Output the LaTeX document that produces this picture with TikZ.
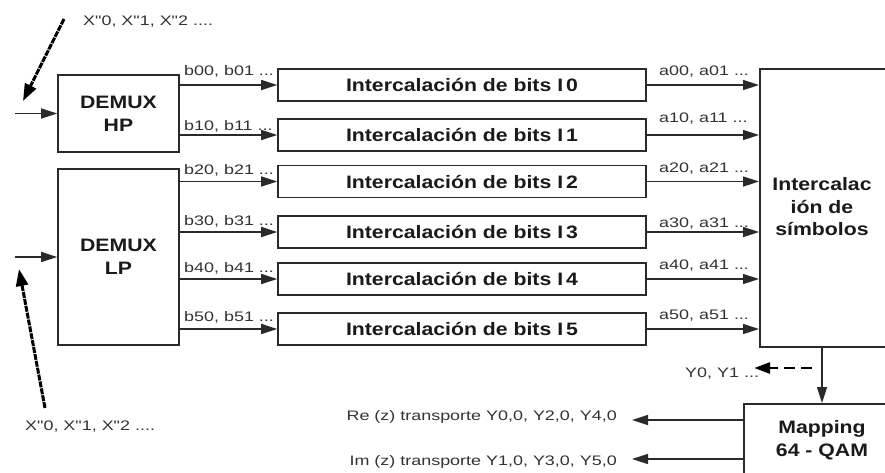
\documentclass[tikz,border=0pt]{standalone}
\usepackage{fontspec}
\setmainfont{Liberation Sans}
\newfontfamily\lblfont[FakeStretch=1.3]{Liberation Sans}
\newfontfamily\boxfont[FakeStretch=1.18]{Liberation Sans}
\usetikzlibrary{arrows.meta}
\definecolor{linec}{HTML}{2A2A2A}
\definecolor{textc}{HTML}{1A1A1A}
\definecolor{lblc}{HTML}{333333}
\begin{document}
\begin{tikzpicture}[x=1pt,y=-1pt,
  box/.style={draw=linec,line width=1.6pt,inner sep=0pt,rectangle,font=\boxfont\bfseries\fontsize{18}{23}\selectfont,text=textc,align=center},
  boxtext/.style={inner sep=0pt,font=\boxfont\bfseries\fontsize{18}{22.5}\selectfont,text=textc,align=center},
  lbl/.style={font=\lblfont\fontsize{13.8}{16}\selectfont,text=lblc,inner sep=0pt},
  arr/.style={draw=linec,line width=1.5pt,-{Triangle[length=16pt,width=10pt]}},
  bigarr/.style={draw=black,line width=3pt,dash pattern=on 6pt off 1pt,-{Triangle[length=17pt,width=12pt]}},
  dasharr/.style={draw=black,line width=2.8pt,dash pattern=on 11pt off 6pt,-{Triangle[length=16pt,width=11pt]}},
]
\clip (0,0) rectangle (885,472);
\fill[white] (0,0) rectangle (885,472);

% DEMUX boxes
\node[box,minimum width=121pt,minimum height=77pt] (hp) at (118.5,113.5) {DEMUX\\HP};
\node[box,minimum width=121pt,minimum height=176pt] (lp) at (118.5,257) {DEMUX\\LP};

% bit interleavers
\foreach \i/\y in {0/85,1/135,2/181.5,3/232,4/279,5/329}
  \node[box,minimum width=368pt,minimum height=32pt] (i\i) at (462,\y) {Intercalación de bits I\,\i};

% symbol interleaver (cut at the right edge)
\node[box,minimum width=150pt,minimum height=278pt,anchor=north west] (sym) at (759,68) {};
\node[boxtext] (symt) at (822,207) {Intercalac\\ión de\\símbolos};

% mapping (cut at the right and bottom edges)
\node[box,minimum width=150pt,minimum height=90pt,anchor=north west] (map) at (743,403) {};
\node[boxtext] (mapt) at (822,440) {Mapping\\64 - QAM};

% inputs
\coordinate (inhp) at (15,113.5);
\coordinate (inlp) at (15,257);
\draw[arr] (inhp) -- (hp.west);
\draw[arr] (inlp) -- (lp.west);

\node[lbl,anchor=base west] (xtop) at (83,25) {X"0, X"1, X"2 ....};
\node[lbl,anchor=base west] (xbot) at (25,430) {X"0, X"1, X"2 ....};
\coordinate (dt1) at (64,19);
\coordinate (dt2) at (23,101);
\coordinate (db1) at (45,408);
\coordinate (db2) at (19,269);
\draw[bigarr] (dt1) -- (dt2);
\draw[bigarr] (db1) -- (db2);

% demux -> interleavers
\draw[arr] (hp.east |- i0.west) -- (i0.west);
\draw[arr] (hp.east |- i1.west) -- (i1.west);
\foreach \i in {2,3,4,5}
  \draw[arr] (lp.east |- i\i.west) -- (i\i.west);

% interleavers -> symbol interleaver
\foreach \i in {0,...,5}
  \draw[arr] (i\i.east) -- (i\i.east -| sym.west);

% b labels
\foreach \i/\y in {0/75,1/130,2/174,3/225,4/272,5/321}
  \node[lbl,anchor=base west] (b\i) at (184,\y) {b\i0, b\i1 ...};
% a labels
\foreach \i/\y in {0/75,1/122,2/172,3/227,4/269,5/319}
  \node[lbl,anchor=base west] (a\i) at (659,\y) {a\i0, a\i1 ...};

% symbol interleaver -> mapping
\draw[arr] (symt |- sym.south) -- (symt |- map.north);

% Y0, Y1 dashed arrow
\node[lbl,anchor=base west] (y01) at (685,377) {Y0, Y1 ...};
\coordinate (ys) at (812,368);
\draw[dasharr] (ys) -- (ys -| y01.east) [shorten >=-5pt];

% mapping outputs
\coordinate (re) at (632,420);
\coordinate (im) at (632,459);
\draw[arr] (re -| map.west) -- (re);
\draw[arr] (im -| map.west) -- (im);
\node[lbl,anchor=base east] (rel) at (617,420) {Re (z) transporte Y0,0, Y2,0, Y4,0};
\node[lbl,anchor=base east] (iml) at (617,465) {Im (z) transporte Y1,0, Y3,0, Y5,0};
\end{tikzpicture}
\end{document}
